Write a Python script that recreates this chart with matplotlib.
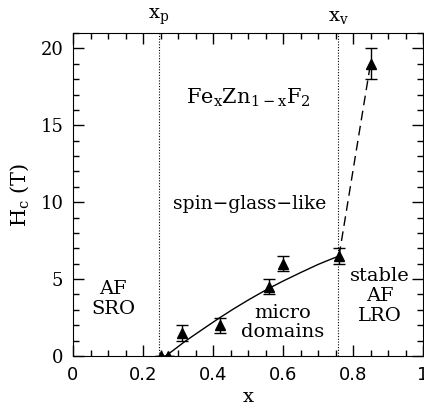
import matplotlib
matplotlib.use("Agg")
import matplotlib.pyplot as plt
from matplotlib.ticker import MultipleLocator

# data
x_pts = [0.25, 0.27, 0.31, 0.42, 0.56, 0.60, 0.76, 0.85]
h_pts = [0.0, 0.0, 1.5, 2.0, 4.5, 6.0, 6.5, 19.0]
h_err = [0.0, 0.0, 0.5, 0.5, 0.5, 0.5, 0.5, 1.0]

curve_x = [0.265, 0.29, 0.32, 0.35, 0.39, 0.42, 0.46, 0.50, 0.53, 0.56, 0.60, 0.65, 0.70, 0.73, 0.76]
curve_y = [0.0, 0.43, 0.95, 1.42, 2.04, 2.5, 3.08, 3.63, 4.02, 4.40, 4.87, 5.42, 5.95, 6.23, 6.5]

dash_x = [0.76, 0.85]
dash_y = [6.5, 19.0]

x_p = 0.245
x_v = 0.758

serif = "DejaVu Serif"

fig = plt.figure(figsize=(4.24, 4.09), dpi=100)
ax = fig.add_axes([73/424, 53/409, 350/424, 323/409])

ax.axvline(x_p, color="black", lw=0.8, ls=(0, (1, 1.5)))
ax.axvline(x_v, color="black", lw=0.8, ls=(0, (1, 1.5)))

ax.plot(curve_x, curve_y, color="black", lw=1.0)
ax.plot(dash_x, dash_y, color="black", lw=1.0, ls=(0, (7, 4)))

ax.errorbar(x_pts, h_pts, yerr=h_err, fmt="^", color="black", ms=7,
            capsize=4, elinewidth=1.0, capthick=1.0)

ax.set_xlim(0, 1)
ax.set_ylim(0, 21)
ax.xaxis.set_major_locator(MultipleLocator(0.2))
ax.xaxis.set_minor_locator(MultipleLocator(0.05))
ax.yaxis.set_major_locator(MultipleLocator(5))
ax.yaxis.set_minor_locator(MultipleLocator(1))
ax.tick_params(which="both", direction="in", top=True, right=True)
ax.tick_params(which="major", length=8, width=1)
ax.tick_params(which="minor", length=4, width=1)
ax.set_xticks([0, 0.2, 0.4, 0.6, 0.8, 1.0])
ax.set_xticklabels(["0", "0.2", "0.4", "0.6", "0.8", "1"])
for lab in ax.get_xticklabels():
    lab.set_fontsize(13)
    lab.set_family("DejaVu Sans")
for lab in ax.get_yticklabels():
    lab.set_fontsize(13)
    lab.set_family(serif)
ax.tick_params(axis="x", pad=7)
ax.tick_params(axis="y", pad=7)

ax.set_xlabel("x", fontsize=14, family=serif, labelpad=3)
ax.set_ylabel(r"H$_\mathregular{c}$ (T)", fontsize=15, family=serif, labelpad=6)

ax.text(x_p, 1.02, r"x$_\mathregular{p}$", transform=ax.get_xaxis_transform(),
        ha="center", va="bottom", fontsize=14, family=serif)
ax.text(x_v, 1.02, r"x$_\mathregular{v}$", transform=ax.get_xaxis_transform(),
        ha="center", va="bottom", fontsize=14, family=serif)

ax.text(0.5, 16.8, "Fe$_\\mathregular{x}$Zn$_\\mathregular{1\u2212x}$F$_\\mathregular{2}$",
        ha="center", va="center", fontsize=15, family=serif)
ax.text(0.505, 9.9, "spin\u2212glass\u2212like", ha="center", va="center", fontsize=13.5, family=serif)
ax.text(0.115, 3.7, "AF\nSRO", ha="center", va="center", fontsize=14, family=serif,
        linespacing=1.2)
ax.text(0.60, 2.2, "micro\ndomains", ha="center", va="center", fontsize=14, family=serif,
        linespacing=1.05)
ax.text(0.877, 3.9, "stable\nAF\nLRO", ha="center", va="center", fontsize=14, family=serif,
        linespacing=1.15)

fig.savefig("out.png", dpi=100)
